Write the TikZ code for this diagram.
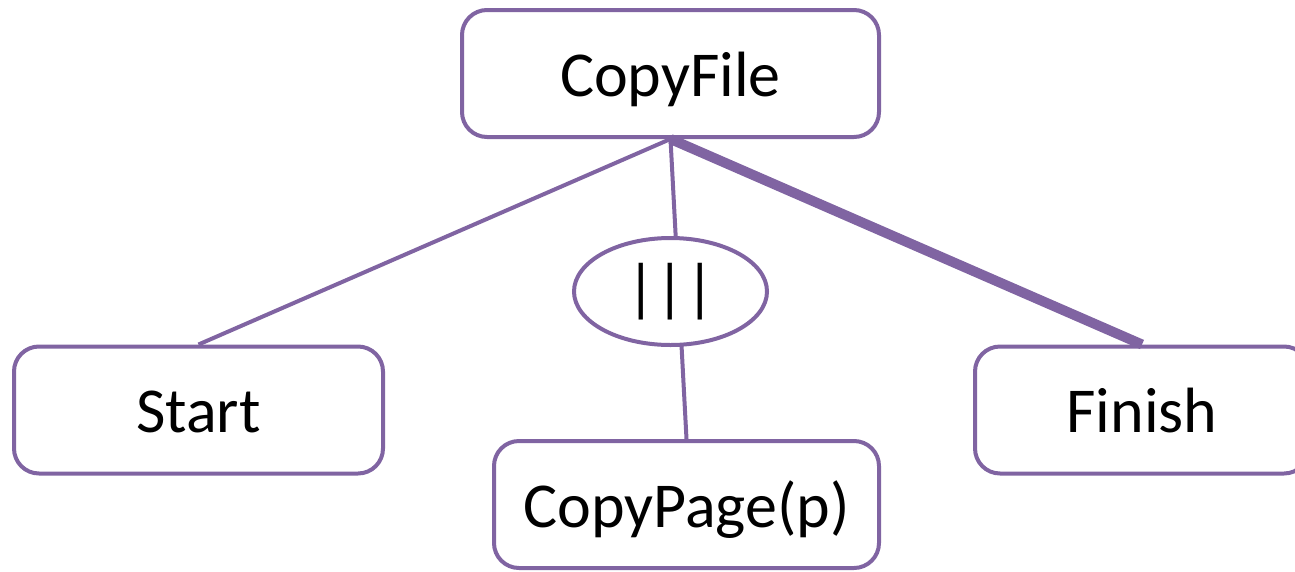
\documentclass[tikz,border=0pt]{standalone}
\usepackage{fontspec}
\setmainfont{Carlito}
\usepackage{xcolor}
\definecolor{Plum}{HTML}{8064A2}
\usepackage{tikz}
\usetikzlibrary{shapes.geometric}

\begin{document}
\begin{tikzpicture}[
  x=1pt,y=-1pt,
  font=\fontsize{64}{76}\selectfont,
  task/.style={rounded corners=25pt,draw=Plum,fill=white,line width=4pt,
    minimum height=127pt,inner sep=0pt,text height=45pt,text depth=0pt},
  parop/.style={ellipse,draw=Plum,fill=white,line width=4pt,
    minimum width=193pt,minimum height=107pt,inner sep=0pt},
  link/.style={draw=Plum,line width=4pt},
  mainlink/.style={draw=Plum,line width=10pt}
]
\useasboundingbox (0,0) rectangle (1295,571);
\clip (0,0) rectangle (1295,571);
\node[task,minimum width=417pt] (copyfile) at (670.5,73.5) {CopyFile};
\node[task,minimum width=369pt] (start) at (198.5,410) {Start};
\node[task,minimum width=334pt] (finish) at (1142,410) {Finish};
\node[task,minimum width=385pt] (copypage) at (686.5,504.5) {CopyPage(p)};
\draw[link] (copyfile.south)--(start.north);
\draw[link] (copyfile.south)--(copypage.north);
\draw[mainlink] (copyfile.south)--(finish.north);
\node[parop] (par) at (670.5,291.5) {|||};
\end{tikzpicture}
\end{document}
